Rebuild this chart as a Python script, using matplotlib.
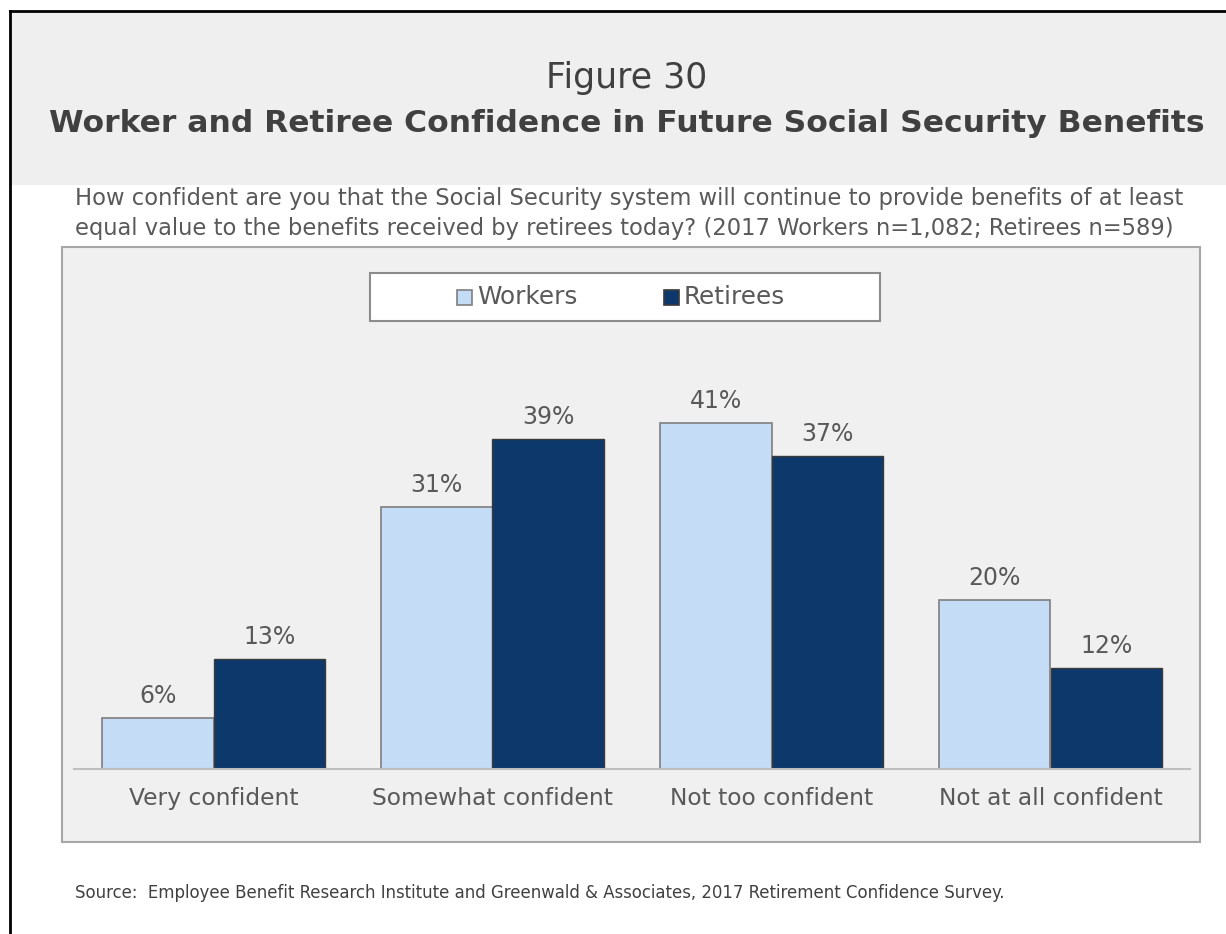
import numpy as np
import matplotlib
matplotlib.use("Agg")
import matplotlib.pyplot as plt
from matplotlib.patches import Rectangle
from matplotlib.lines import Line2D

categories = ["Very confident", "Somewhat confident", "Not too confident", "Not at all confident"]
workers = [6, 31, 41, 20]
retirees = [13, 39, 37, 12]
series_names = ["Workers", "Retirees"]

W, H = 1226, 934
LIGHT = "#c5dcf6"
DARK = "#0c386b"
TXT = "#595959"

plt.rcParams["font.family"] = ["DejaVu Sans"]

fig = plt.figure(figsize=(W / 100, H / 100), dpi=100)
fig.patch.set_facecolor("white")


def fx(x):
    return x / W


def fy(y):
    return 1 - y / H


def box(x0, y0, x1, y1, **kw):
    r = Rectangle((fx(x0), fy(y1)), fx(x1) - fx(x0), fy(y0) - fy(y1),
                  transform=fig.transFigure, **kw)
    fig.add_artist(r)
    return r


# header band and page frame
box(12, 13, 1226, 185, facecolor="#efefef", edgecolor="none", zorder=0)
fig.add_artist(Line2D([fx(10), fx(10)], [fy(11), fy(934)], color="black", lw=2,
                      transform=fig.transFigure))
fig.add_artist(Line2D([fx(10), fx(1226)], [fy(11), fy(11)], color="black", lw=2,
                      transform=fig.transFigure))

fig.text(fx(627), fy(78), "Figure 30", ha="center", va="center",
         fontsize=25, color="#404040")
fig.text(fx(627), fy(123), "Worker and Retiree Confidence in Future Social Security Benefits",
         ha="center", va="center", fontsize=22.6, fontweight="bold", color="#404040")

fig.text(fx(75), fy(199), "How confident are you that the Social Security system will continue to provide benefits of at least",
         ha="left", va="center", fontsize=16.3, color=TXT)
fig.text(fx(75), fy(228), "equal value to the benefits received by retirees today? (2017 Workers n=1,082; Retirees n=589)",
         ha="left", va="center", fontsize=16.3, color=TXT)

# chart area background
box(62, 247, 1200, 842, facecolor="#f0f0f0", edgecolor="#a6a6a6", lw=1.5, zorder=0)

fig.text(fx(75), fy(893), "Source:  Employee Benefit Research Institute and Greenwald & Associates, 2017 Retirement Confidence Survey.",
         ha="left", va="center", fontsize=13.2, color="#404040", fontstretch="condensed")

# axes: baseline at y=769 px, 8.45 px per percentage point
base_px = 769
ppp = 8.45
ytop = 50
ax = fig.add_axes([fx(74), fy(base_px), fx(1190) - fx(74), ytop * ppp / H])
ax.set_facecolor("none")
ax.set_xlim(-0.5, 3.5)
ax.set_ylim(0, ytop)

x = np.arange(len(categories))
bw = 0.4
b1 = ax.bar(x - bw / 2, workers, bw, color=LIGHT, edgecolor="#7f7f7f", lw=1.2, zorder=2)
b2 = ax.bar(x + bw / 2, retirees, bw, color=DARK, edgecolor="#3a3a3a", lw=1.0, zorder=2)

for bars, vals in ((b1, workers), (b2, retirees)):
    for b, v in zip(bars, vals):
        ax.annotate(f"{v}%", (b.get_x() + b.get_width() / 2, v),
                    xytext=(0, 10), textcoords="offset pixels",
                    ha="center", va="bottom", fontsize=17, color=TXT)

for s in ("top", "right", "left"):
    ax.spines[s].set_visible(False)
ax.spines["bottom"].set_color("#bfbfbf")
ax.spines["bottom"].set_linewidth(1.5)
ax.set_yticks([])
ax.set_xticks(x)
ax.set_xticklabels(categories, fontsize=16.8, color=TXT)
ax.tick_params(axis="x", length=0, pad=13)

# legend box with swatches
box(370, 273, 880, 321, facecolor="white", edgecolor="#8c8c8c", lw=1.5, zorder=1)
swatches = [(457, LIGHT, "#7f7f7f"), (664, DARK, "#3a3a3a")]
for (sx, fc, ec), name in zip(swatches, series_names):
    box(sx, 290, sx + 15, 305, facecolor=fc, edgecolor=ec, lw=1.2, zorder=2)
    fig.text(fx(sx + 20), fy(297), name, ha="left", va="center",
             fontsize=17.8, color=TXT, zorder=3)

fig.savefig("out.png", dpi=100)
